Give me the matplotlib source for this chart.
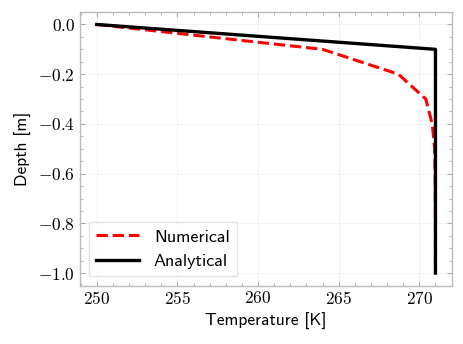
import matplotlib
matplotlib.use("Agg")
import matplotlib.pyplot as plt
from matplotlib.ticker import AutoMinorLocator, FuncFormatter

# Numerical vs analytical temperature profile
depth_num = [0.0, -0.1, -0.2, -0.3, -0.4, -0.5, -0.6, -0.7, -0.8, -0.9, -1.0]
temp_num = [250.0, 264.0, 268.7, 270.4, 270.8, 270.95, 270.98, 270.99, 271.0, 271.0, 271.0]

depth_ana = [0.0, -0.1, -1.0]
temp_ana = [250.0, 271.0, 271.0]

plt.rcParams["font.family"] = ["cmss10", "DejaVu Sans"]
plt.rcParams["mathtext.fontset"] = "cm"
plt.rcParams["axes.unicode_minus"] = True
plt.rcParams["font.size"] = 12.5

fig, ax = plt.subplots(figsize=(4.64, 3.44), dpi=100)

ax.plot(temp_num, depth_num, color="red", linestyle="--", linewidth=2.2, label="Numerical")
ax.plot(temp_ana, depth_ana, color="black", linestyle="-", linewidth=2.4, label="Analytical")

ax.set_xlabel("Temperature [K]")
ax.set_ylabel("Depth [m]")

ax.xaxis.set_major_formatter(FuncFormatter(lambda v, pos: r"$%d$" % round(v)))
ax.yaxis.set_major_formatter(FuncFormatter(lambda v, pos: r"$%.1f$" % v))

ax.xaxis.set_minor_locator(AutoMinorLocator())
ax.yaxis.set_minor_locator(AutoMinorLocator())
ax.tick_params(which="both", direction="in", top=True, right=True, color="#aaaaaa", labelsize=12.5)
ax.tick_params(which="major", length=3.5, width=0.8)
ax.tick_params(which="minor", length=2, width=0.6)
for s in ax.spines.values():
    s.set_color("#bbbbbb")
    s.set_linewidth(1.0)

ax.grid(True, color="#e8e8e8", linewidth=0.6, alpha=0.6)

ax.legend(loc="lower left", fontsize=13, frameon=True, edgecolor="#dddddd", fancybox=False,
          handlelength=2.4)

fig.subplots_adjust(left=0.172, right=0.975, top=0.965, bottom=0.17)
fig.savefig("out.png", dpi=100)
